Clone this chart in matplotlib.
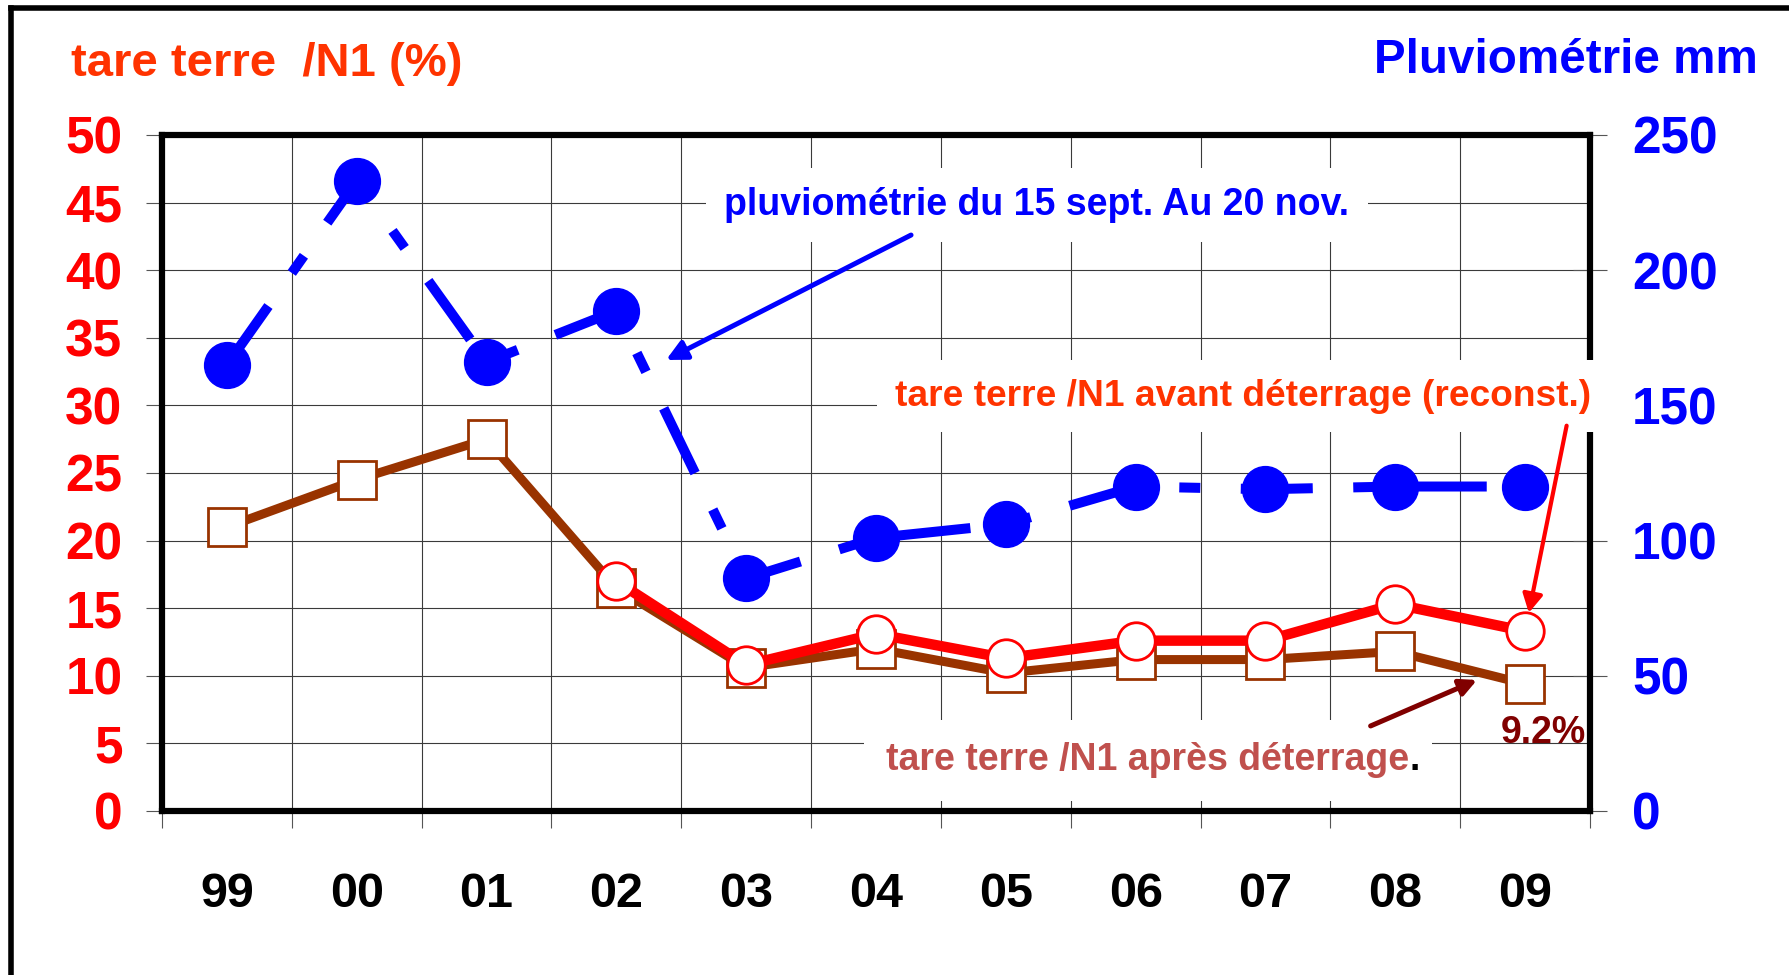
import numpy as np
import matplotlib
matplotlib.use("Agg")
import matplotlib.pyplot as plt
from matplotlib.lines import Line2D

plt.rcParams['font.family'] = ['Liberation Sans', 'DejaVu Sans']
plt.rcParams['font.weight'] = 'bold'

# data
years = ["99", "00", "01", "02", "03", "04", "05", "06", "07", "08", "09"]
tare_apres = [21.0, 24.5, 27.5, 16.5, 10.6, 12.0, 10.2, 11.2, 11.2, 11.8, 9.4]
tare_avant = [None, None, None, 17.0, 10.8, 13.1, 11.3, 12.6, 12.6, 15.3, 13.3]
pluvio = [165, 233, 166, 185, 86, 101, 106, 120, 119, 120, 120]

W, H = 1789, 975
fig = plt.figure(figsize=(W / 100, H / 100), dpi=100)
fig.patch.set_facecolor("white")


def fx(px):
    return px / W


def fy(py):
    return 1 - py / H


ax = fig.add_axes([fx(162), fy(811), fx(1590) - fx(162), fy(135) - fy(811)])
ax2 = ax.twinx()

x = np.arange(len(years))
ax.set_xlim(-0.5, len(years) - 0.5)
ax.set_ylim(0, 50)
ax2.set_ylim(0, 250)

# series on the left axis
x_avant = [i for i, v in enumerate(tare_avant) if v is not None]
y_avant = [v for v in tare_avant if v is not None]
ax.plot(x, tare_apres, color="#993300", lw=6.5, marker="s", ms=27,
        mfc="white", mec="#993300", mew=2, zorder=3)
ax.plot(x_avant, y_avant, color="#FF0000", lw=7.5, marker="o", ms=27,
        mfc="white", mec="#FF0000", mew=2, zorder=4)

# rainfall on the right axis (long dash / short dash)
ax2.plot(x, pluvio, color="#0000FF", lw=7.2, marker="o", ms=33,
         mfc="#0000FF", mec="#0000FF", dashes=(7.2, 4.05, 2.1, 4.05),
         solid_capstyle="butt", dash_capstyle="butt", zorder=3)

# grid and ticks
ax.set_xticks(np.arange(-0.5, len(years), 1))
ax.set_xticklabels([])
ax.set_xticks(x, minor=True)
ax.set_xticklabels(years, minor=True, fontsize=35, fontweight="bold")
ax.tick_params(axis="x", which="major", length=12, width=0.8, color="#555555", direction="out")
ax.tick_params(axis="x", which="minor", length=0, pad=44)
ax.set_yticks(range(0, 51, 5))
ax.set_yticklabels([str(v) for v in range(0, 51, 5)], fontsize=37,
                   fontweight="bold", color="#FF0000")
ax.tick_params(axis="y", length=11.5, width=0.8, color="#555555", pad=17)
ax2.set_yticks(range(0, 251, 50))
ax2.set_yticklabels([str(v) for v in range(0, 251, 50)], fontsize=37,
                    fontweight="bold", color="#0000FF")
ax2.tick_params(axis="y", direction="inout", length=24.5, width=0.8,
                color="#555555", pad=18)
ax.grid(True, which="major", color="#3a3a3a", lw=0.8)
ax.set_axisbelow(True)

for a in (ax, ax2):
    for s in a.spines.values():
        s.set_linewidth(4.4)
        s.set_color("black")

# annotations
tdat = ax.transData
box = dict(boxstyle="square,pad=0.5", fc="white", ec="none")
ax2.text(6.24, 44.08, "pluviométrie du 15 sept. Au 20 nov.", transform=tdat,
         ha="center", va="baseline", fontsize=27, color="#0000FF",
         bbox=box, zorder=10)
ax2.text(7.83, 29.96, "tare terre /N1 avant déterrage (reconst.)", transform=tdat,
         ha="center", va="baseline", fontsize=26.7, color="#FF3300",
         bbox=box, zorder=10, clip_on=False)
t_ap = ax2.text(5.08, 3.03, "tare terre /N1 après déterrage", transform=tdat,
                ha="left", va="baseline", fontsize=27, color="#C0504D",
                bbox=dict(boxstyle="square,pad=0.6", fc="white", ec="none"),
                zorder=10)
ax2.annotate(".", xy=(1, 0), xycoords=t_ap, ha="left", va="bottom",
             fontsize=27, color="black", zorder=11)
ax2.text(9.81, 5.03, "9.2%", transform=tdat, ha="left", va="baseline",
         fontsize=27, color="#800000", zorder=10)

ax2.annotate("", xy=(3.383, 166.8), xytext=(5.27, 213),
             arrowprops=dict(arrowstyle="-|>,head_length=12,head_width=6",
                             mutation_scale=1, lw=3.6, color="#0000FF",
                             shrinkA=0, shrinkB=0), zorder=12)
ax2.annotate("", xy=(10, tare_avant[-1]), xycoords=tdat,
             xytext=(10.32, 28.5), textcoords=tdat,
             arrowprops=dict(arrowstyle="-|>,head_length=11,head_width=6",
                             mutation_scale=1, lw=3, color="#FF0000",
                             shrinkA=0, shrinkB=13.5), zorder=12)
ax2.annotate("", xy=(9.63, 9.69), xycoords=tdat,
             xytext=(8.81, 6.29), textcoords=tdat,
             arrowprops=dict(arrowstyle="-|>,head_length=10,head_width=5",
                             mutation_scale=1, lw=3.6, color="#800000",
                             shrinkA=0, shrinkB=0), zorder=12)

# axis titles
fig.text(fx(71), fy(76), "tare terre  /N1 (%)", ha="left", va="baseline",
         fontsize=34, fontweight="bold", color="#FF3300")
fig.text(fx(1758), fy(73), "Pluviométrie mm", ha="right", va="baseline",
         fontsize=34.3, fontweight="bold", color="#0000FF")

# outer frame of the slide
fig.add_artist(Line2D([fx(10.5), fx(10.5)], [0, fy(8)], color="black", lw=4,
                      solid_capstyle="projecting", transform=fig.transFigure))
fig.add_artist(Line2D([fx(10.5), 1.01], [fy(8), fy(8)], color="black", lw=4,
                      solid_capstyle="projecting", transform=fig.transFigure))

fig.savefig("out.png", dpi=100)
